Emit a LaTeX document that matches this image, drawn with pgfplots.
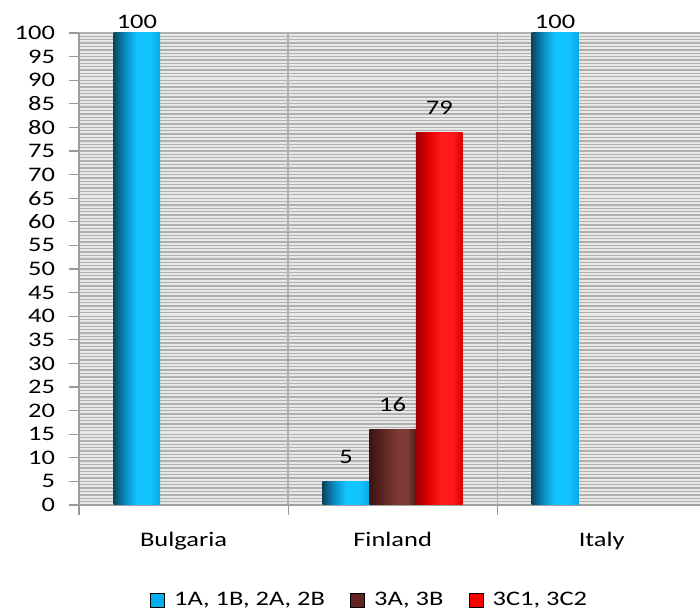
\documentclass[border=0pt]{standalone}
\usepackage{fontspec}
\setmainfont{Carlito}[FakeStretch=1.28]
\usepackage{pgfplots}
\pgfplotsset{compat=1.18}

\definecolor{bA}{HTML}{0B4560}
\definecolor{bB}{HTML}{0A86B8}
\definecolor{bC}{HTML}{12C4FF}
\definecolor{bD}{HTML}{0AAAE4}
\definecolor{mA}{HTML}{3A1412}
\definecolor{mB}{HTML}{5E2622}
\definecolor{mC}{HTML}{7E3C38}
\definecolor{mD}{HTML}{4E1C1A}
\definecolor{rA}{HTML}{9A0000}
\definecolor{rB}{HTML}{E00000}
\definecolor{rC}{HTML}{FF1A1A}
\definecolor{rD}{HTML}{D80000}
\definecolor{lgblue}{HTML}{00B0F0}
\definecolor{lgmaroon}{HTML}{632523}
\definecolor{lgred}{HTML}{FF0000}

\pgfdeclarehorizontalshading{blueshade}{100bp}{color(0bp)=(bA); color(25bp)=(bA); color(36bp)=(bB); color(50bp)=(bC); color(64bp)=(bC); color(75bp)=(bD); color(100bp)=(bD)}
\pgfdeclarehorizontalshading{maroonshade}{100bp}{color(0bp)=(mA); color(25bp)=(mA); color(40bp)=(mB); color(57bp)=(mC); color(66bp)=(mC); color(75bp)=(mD); color(100bp)=(mD)}
\pgfdeclarehorizontalshading{redshade}{100bp}{color(0bp)=(rA); color(25bp)=(rA); color(38bp)=(rB); color(52bp)=(rC); color(64bp)=(rC); color(75bp)=(rD); color(100bp)=(rD)}

% one bar per plot so that each bar gets its own shading
\pgfplotsset{
  mybar/.style n args={3}{ybar, bar width=35pt, bar shift=#1, draw=none, shading=#2,
    nodes near coords,
    every node near coord/.append style={anchor=south, xshift=#1, yshift=#3},
    forget plot},
}

\begin{document}
\begin{tikzpicture}
\begin{axis}[
  at={(0,0)}, anchor=south west,
  scale only axis,
  width=465.75pt, height=354pt,
  xmin=-0.5, xmax=2.47,
  ymin=0, ymax=100,
  clip=false,
  font=\fontsize{15.5}{18}\selectfont,
  /pgf/number format/assume math mode=true,
  axis x line*=bottom, axis y line*=left,
  axis line style={draw=gray!75, line width=0.9pt, -},
  axis background/.style={fill=black!9},
  ytick={0,5,...,100},
  minor y tick num=6,
  ymajorgrids, yminorgrids,
  major grid style={draw=black!31, line width=1pt},
  minor grid style={draw=black!31, line width=1pt},
  minor tick length=0pt,
  ytick align=outside,
  ytick style={draw=gray!80, line width=0.8pt},
  major tick length=7.5pt,
  yticklabel style={xshift=-7pt},
  xtick={-0.5,0.5,1.5},
  xticklabels={},
  xtick align=outside,
  xtick style={draw=gray!80, line width=0.8pt},
  xmajorgrids,
  extra x ticks={0,1,2},
  extra x tick labels={Bulgaria,Finland,Italy},
  extra x tick style={grid=none, major tick length=0pt, xticklabel style={yshift=-17pt}},
  legend image code/.code={\fill[#1] (0pt,-5.25pt) rectangle (10.5pt,5.25pt);},
  legend style={draw=none, fill=none, at={(0.4686,-0.2013)}, anchor=center,
    legend columns=3, font=\fontsize{15.5}{18}\selectfont,
    /tikz/every odd column/.append style={column sep=5pt},
    /tikz/every even column/.append style={column sep=17pt}},
]
% 1A, 1B, 2A, 2B
\addplot[mybar={-35pt}{blueshade}{0pt}] coordinates {(0,100)};
\addplot[mybar={-35pt}{blueshade}{10pt}] coordinates {(1,5)};
\addplot[mybar={-35pt}{blueshade}{0pt}] coordinates {(2,100)};
% 3A, 3B
\addplot[mybar={0pt}{maroonshade}{10pt}] coordinates {(1,16)};
% 3C1, 3C2
\addplot[mybar={35pt}{redshade}{10pt}] coordinates {(1,79)};
\addlegendimage{fill=lgblue}
\addlegendentry{1A, 1B, 2A, 2B}
\addlegendimage{fill=lgmaroon}
\addlegendentry{3A, 3B}
\addlegendimage{fill=lgred}
\addlegendentry{3C1, 3C2}
\end{axis}
\pgfresetboundingbox
\path[use as bounding box] (-59.25pt,-83.25pt) rectangle (465.75pt,378.75pt);
\end{tikzpicture}
\end{document}
